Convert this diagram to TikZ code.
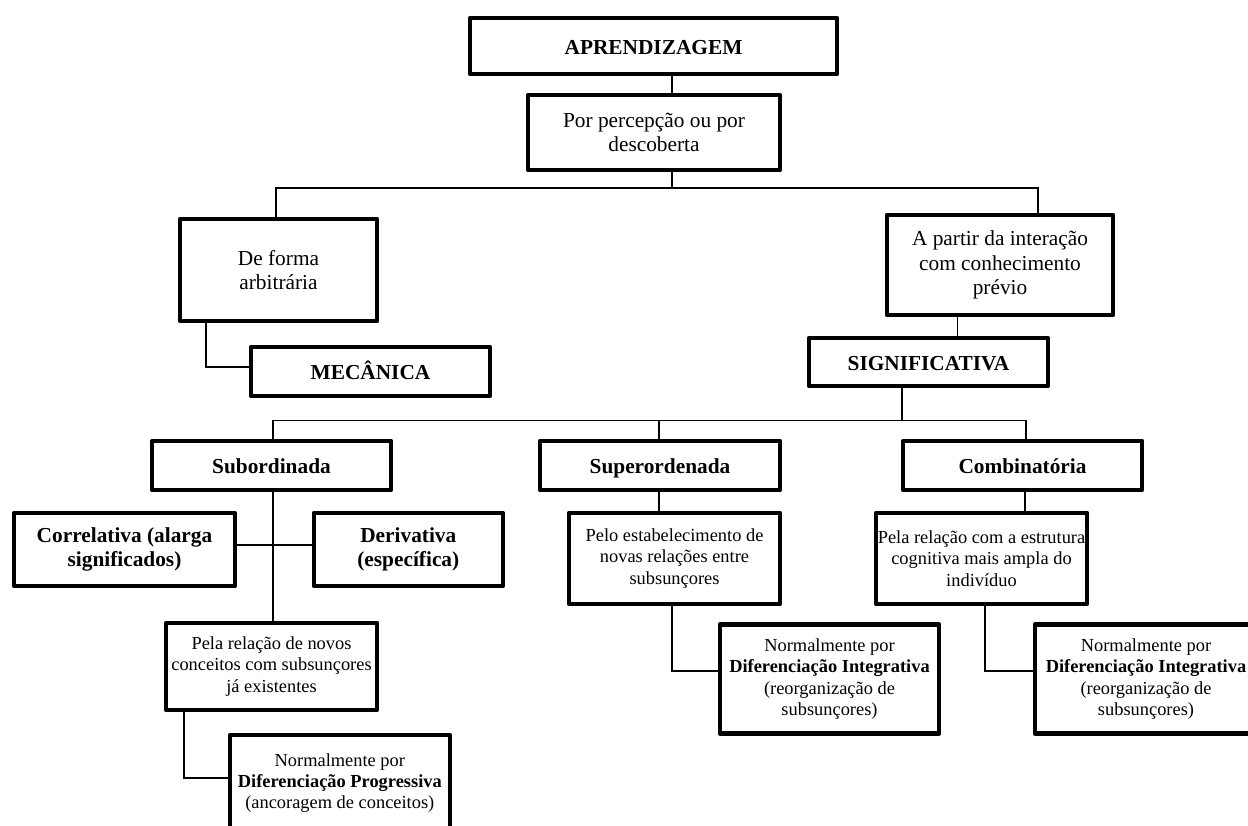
\documentclass[tikz,border=0pt]{standalone}
\usepackage{fontspec}
\setmainfont{Liberation Serif}
\tikzset{
  box/.style={draw, line width=3.4pt, inner sep=0pt, outer sep=0pt, align=center, line join=round},
  big/.style={font=\fontsize{16}{18.4}\selectfont},
  small/.style={font=\fontsize{13.8}{15.9}\selectfont},
  oneline/.style={text height=12pt, text depth=0pt},
  conn/.style={draw, line width=1.4pt}
}
\begin{document}
\begin{tikzpicture}[x=0.75pt, y=-0.75pt]
\useasboundingbox (0,0) rectangle (1248,825);
\clip (0,0) rectangle (1248,825);
\fill[white] (0,0) rectangle (1248,825);

% boxes
\node[box, big, oneline, minimum width={367*0.75pt}, minimum height={56*0.75pt}] (aprend) at (653.5,46) {\textbf{APRENDIZAGEM}};
\node[box, big, minimum width={252*0.75pt}, minimum height={75*0.75pt}] (percep) at (654,132.5) {Por percepção ou por\\descoberta};
\node[box, big, minimum width={197*0.75pt}, minimum height={102*0.75pt}] (deforma) at (278.5,270) {De forma\\arbitrária};
\node[box, big, oneline, minimum width={239*0.75pt}, minimum height={49*0.75pt}] (mecanica) at (370.5,371.5) {\textbf{MECÂNICA}};
\node[box, big, minimum width={226*0.75pt}, minimum height={100*0.75pt}] (apartir) at (1000,265) {A partir da interação\\com conhecimento\\prévio};
\node[box, big, oneline, minimum width={239*0.75pt}, minimum height={48*0.75pt}] (signif) at (928.5,362) {\textbf{SIGNIFICATIVA}};

\node[box, big, oneline, minimum width={239*0.75pt}, minimum height={49*0.75pt}] (subord) at (271.5,465.5) {\textbf{Subordinada}};
\node[box, big, oneline, minimum width={240*0.75pt}, minimum height={49*0.75pt}] (superord) at (660,465.5) {\textbf{Superordenada}};
\node[box, big, oneline, minimum width={239*0.75pt}, minimum height={49*0.75pt}] (combin) at (1022.5,465.5) {\textbf{Combinatória}};

\node[box, big, minimum width={221*0.75pt}, minimum height={73*0.75pt}] (correl) at (124.5,549.5) {\textbf{Correlativa (alarga}\\\textbf{significados)}};
\node[box, big, minimum width={189*0.75pt}, minimum height={73*0.75pt}] (deriv) at (408.3,549.5) {\textbf{Derivativa}\\\textbf{(específica)}};

\node[box, small, minimum width={211*0.75pt}, minimum height={87*0.75pt}] (pelarel) at (271.5,666.5) {Pela relação de novos\\conceitos com subsunçores\\já existentes};
\node[box, small, minimum width={220*0.75pt}, minimum height={96*0.75pt}] (normprog) at (339.8,783) {Normalmente por\\\textbf{Diferenciação Progressiva}\\(ancoragem de conceitos)};

\node[box, small, minimum width={211*0.75pt}, minimum height={91*0.75pt}] (peloest) at (674.5,558.5) {Pelo estabelecimento de\\novas relações entre\\subsunçores};
\node[box, small, minimum width={219*0.75pt}, minimum height={109*0.75pt}] (normint1) at (829.5,679) {Normalmente por\\\textbf{Diferenciação Integrativa}\\(reorganização de\\subsunçores)};

\node[box, small, minimum width={211*0.75pt}, minimum height={91*0.75pt}] (pelaest) at (981.5,558.5) {Pela relação com a estrutura\\cognitiva mais ampla do\\indivíduo};
\node[box, small, minimum width={222*0.75pt}, minimum height={109*0.75pt}] (normint2) at (1146,679) {Normalmente por\\\textbf{Diferenciação Integrativa}\\(reorganização de\\subsunçores)};

% connector coordinates
\coordinate (b1L) at (276,188);
\coordinate (b1R) at (1038,188);
\coordinate (b2L) at (272.6,420.5);
\coordinate (b2R) at (1026,420.5);

% connectors
\draw[conn] (aprend.south -| 672,0) -- (percep.north -| 672,0);
\draw[conn] (percep.south -| 672,0) -- (b1L -| 672,0);
\draw[conn] (deforma.north -| b1L) -- (b1L) -- (b1R) -- (apartir.north -| b1R);
\draw[conn] (deforma.south -| 206,0) -- (206,367) -- (mecanica.west |- 0,367);
\draw[conn] (apartir.south -| 957.5,0) -- (signif.north -| 957.5,0);
\draw[conn] (signif.south -| 902,0) -- (b2L -| 902,0);
\draw[conn] (subord.north -| b2L) -- (b2L) -- (b2R) -- (combin.north -| b2R);
\draw[conn] (b2L -| 658.6,0) -- (superord.north -| 658.6,0);
\draw[conn] (subord.south -| b2L) -- (pelarel.north -| b2L);
\draw[conn] (correl.east |- 0,545) -- (deriv.west |- 0,545);
\draw[conn] (pelarel.south -| 184,0) -- (184,778) -- (normprog.west |- 0,778);
\draw[conn] (superord.south -| 658.6,0) -- (peloest.north -| 658.6,0);
\draw[conn] (peloest.south -| 672,0) -- (672,670.7) -- (normint1.west |- 0,670.7);
\draw[conn] (combin.south -| 1025,0) -- (pelaest.north -| 1025,0);
\draw[conn] (pelaest.south -| 985,0) -- (985,670.7) -- (normint2.west |- 0,670.7);
\end{tikzpicture}
\end{document}
